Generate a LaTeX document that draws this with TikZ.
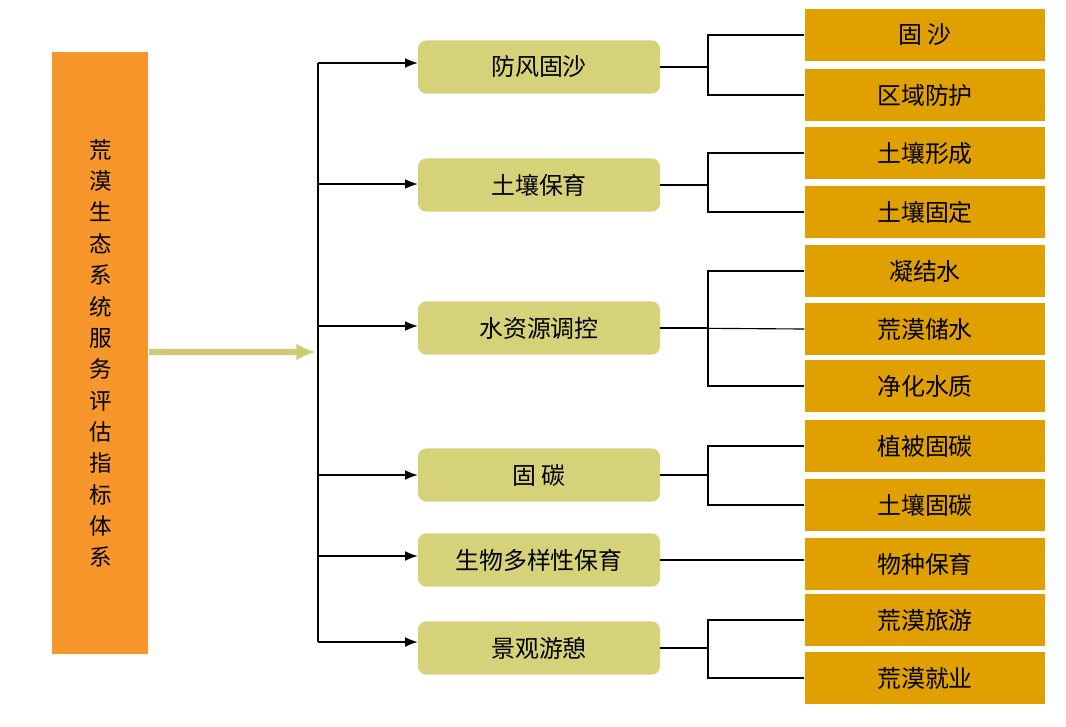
\documentclass[tikz,border=0pt]{standalone}
\usepackage{fontspec}
\setmainfont{Noto Sans CJK SC}
\usetikzlibrary{arrows.meta,positioning,calc}
\definecolor{leftorange}{HTML}{F7962B}
\definecolor{midkhaki}{HTML}{D6D27A}
\definecolor{rightgold}{HTML}{DFA000}
\definecolor{arrowgreen}{HTML}{CFCB6E}
\tikzset{
  midbox/.style={fill=midkhaki, rounded corners=6pt, minimum width=6.05cm, minimum height=1.33cm, font=\fontsize{17}{20}\selectfont},
  subbox/.style={fill=rightgold, minimum width=6.02cm, minimum height=1.28cm, font=\fontsize{17}{20}\selectfont},
  branch/.style={-{Latex[length=9pt,width=7pt]}, thick},
  bracket/.style={thick}
}
\begin{document}
\begin{tikzpicture}[x=0.025cm,y=-0.025cm]
    \useasboundingbox (0,0) rectangle (1066,726);
    % Left box
    \node[fill=leftorange, minimum width=2.4cm, minimum height=15.05cm, anchor=north west, inner sep=0pt] (system) at (52,52) {};
    \node[align=center, font=\fontsize{16}{22.3}\selectfont] (systemtext) at (system.center) {荒\\漠\\生\\态\\系\\统\\服\\务\\评\\估\\指\\标\\体\\系};
    \coordinate (trunktop) at (318,63);
    \coordinate (trunkbot) at (318,642);
    \coordinate (trunkin) at (316,352);
    \draw[-{Latex[length=14pt,width=12pt]}, arrowgreen, line width=4pt] (system.east |- trunkin) -- (trunkin);
    \draw[bracket] (trunktop) -- (trunkbot);

    % Middle nodes
    \node[midbox] (wind) at (539,67) {防风固沙};
    \node[midbox] (soil) at (539,185) {土壤保育};
    \node[midbox] (water) at (539,328) {水资源调控};
    \node[midbox] (carbon) at (539,475) {固\ 碳};
    \node[midbox] (bio) at (539,560) {生物多样性保育};
    \node[midbox] (scene) at (539,648) {景观游憩};

    % Right nodes
    \node[subbox] (sand) at (925,35) {固\ 沙};
    \node[subbox] (region) at (925,95) {区域防护};
    \node[subbox] (soilform) at (925,153) {土壤形成};
    \node[subbox] (soilfix) at (925,212) {土壤固定};
    \node[subbox] (dew) at (925,271) {凝结水};
    \node[subbox] (store) at (925,329) {荒漠储水};
    \node[subbox] (purify) at (925,386) {净化水质};
    \node[subbox] (vegc) at (925,446) {植被固碳};
    \node[subbox] (soilc) at (925,505) {土壤固碳};
    \node[subbox] (species) at (925,564) {物种保育};
    \node[subbox] (tour) at (925,620) {荒漠旅游};
    \node[subbox] (job) at (925,678) {荒漠就业};

    % Branches from trunk
    \foreach \m/\yy in {wind/63,soil/184,water/326,carbon/475,bio/556,scene/642}
        \draw[branch] (318,\yy) -- (\m.west |- 0,\yy);

    % Brackets to sub items
    \foreach \m/\a/\b in {wind/sand/region,soil/soilform/soilfix,water/dew/purify,carbon/vegc/soilc,scene/tour/job}{
        \draw[bracket] (\m.east) -- (708,0 |- \m.east);
        \draw[bracket] (\a.west) -| (708,0 |- \b.west) -- (\b.west);
    }
    \draw[bracket] (water.east) -- (store.west);
    \draw[bracket] (bio.east) -- (bio.east -| species.west);
\end{tikzpicture}
\end{document}
